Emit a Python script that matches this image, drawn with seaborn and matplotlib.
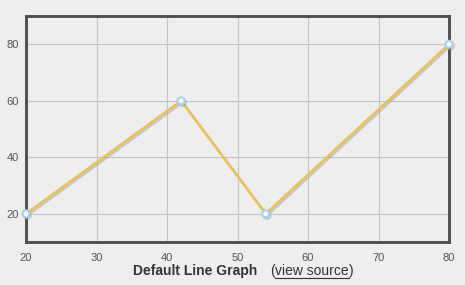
import matplotlib
matplotlib.use("Agg")
import matplotlib.pyplot as plt
import matplotlib.patheffects as pe
import seaborn as sns
import pandas as pd

x_vals = [20, 42, 54, 80]
y_vals = [20, 60, 20, 80]
x_ticks = [20, 30, 40, 50, 60, 70, 80]
y_ticks = [20, 40, 60, 80]

sns.set_theme(style="white")
plt.rcParams['font.family'] = ['Liberation Sans', 'DejaVu Sans']

df = pd.DataFrame({"x": x_vals, "y": y_vals})
fig = plt.figure(figsize=(4.65, 2.85), dpi=100, facecolor="#eeeeee")
ax = fig.add_axes([26/465, 1-242/285, (449-26)/465, (242-16)/285])
ax.set_facecolor("#eeeeee")

sns.lineplot(data=df, x="x", y="y", ax=ax, color="#eac25a", linewidth=1.8,
             marker="o", markersize=5, markerfacecolor="white",
             markeredgecolor="#a8d0f0", markeredgewidth=1.5, clip_on=False, zorder=5,
             path_effects=[pe.SimpleLineShadow(offset=(1.0, -1.2), shadow_color="#999999", alpha=0.45),
                           pe.Normal()])

ax.set_xlim(20, 80)
ax.set_ylim(10, 90)
ax.set_xticks(x_ticks)
ax.set_yticks(y_ticks)
ax.grid(True, color="#c4c4c4", linewidth=0.8)
ax.set_axisbelow(True)
for s in ax.spines.values():
    s.set_color("#505050")
    s.set_linewidth(2.1)
    s.set_zorder(3)
ax.tick_params(length=0, labelsize=8, labelcolor="#555555")
ax.tick_params(axis="x", pad=8)
ax.tick_params(axis="y", pad=5)
ax.set_xlabel("")
ax.set_ylabel("")

fig.text(257/465, 1-271/285, "Default Line Graph", ha="right", va="center",
         fontsize=10, fontweight="bold", color="#333333")
fig.text(270/465, 1-271/285, "(", ha="left", va="center", fontsize=10, color="#333333")
t = fig.text(275/465, 1-271/285, "view source", ha="left", va="center", fontsize=10, color="#333333")
fig.canvas.draw()
r = fig.canvas.get_renderer()
bb = t.get_window_extent(r)
fig.text(bb.x1/465, 1-271/285, ")", ha="left", va="center", fontsize=10, color="#333333")
fig.add_artist(plt.Line2D([bb.x0/465, bb.x1/465], [1-278/285, 1-278/285], color="#333333", linewidth=0.8))

fig.savefig("out.png", dpi=100, facecolor="#eeeeee")
